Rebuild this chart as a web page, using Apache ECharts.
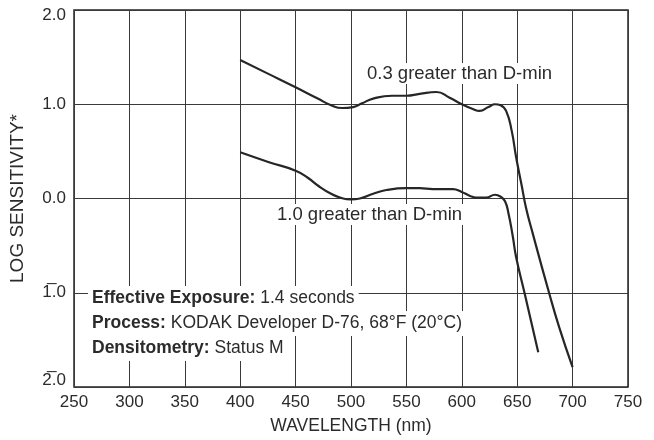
<!DOCTYPE html>
<html>
<head>
<meta charset="utf-8">
<script src="https://cdn.jsdelivr.net/npm/echarts@6/dist/echarts.min.js"></script>
<style>
  html, body { margin: 0; padding: 0; background: #fff; }
  #chart { width: 654px; height: 440px; }
</style>
</head>
<body>
<div id="chart"></div>
<script>
// Spectral sensitivity, wavelength (nm) vs log sensitivity
const wavelengthTicks = [250, 300, 350, 400, 450, 500, 550, 600, 650, 700, 750];
const sensitivityTicks = [-2, -1, 0, 1, 2];
const sensitivityTickLabels = ['2\u0305.0', '1\u0305.0', '0.0', '1.0', '2.0'];

// 0.3 greater than D-min
const curve03 = [
  [400, 1.47], [425, 1.325], [450, 1.18], [470, 1.06], [482, 0.99], [492, 0.96],
  [502, 0.97], [510, 1.01], [520, 1.06], [537, 1.09], [550, 1.09], [562, 1.11],
  [577, 1.13], [589, 1.07], [600, 1.00], [610, 0.95], [616, 0.93], [624, 0.97],
  [630, 1.00], [635, 0.99], [640, 0.93], [645, 0.72], [649, 0.44], [654, 0.14],
  [658, -0.10], [664, -0.37], [679, -1.01], [688, -1.37], [700, -1.79]
];

// 1.0 greater than D-min
const curve10 = [
  [400, 0.49], [426, 0.385], [450, 0.295], [461, 0.22], [471, 0.13], [482, 0.05],
  [490, 0.01], [500, -0.01], [508, 0.00], [520, 0.05], [532, 0.09], [550, 0.11],
  [562, 0.11], [574, 0.10], [592, 0.10], [600, 0.07], [607, 0.03], [613, 0.01],
  [622, 0.01], [630, 0.04], [635, 0.02], [639, -0.03], [642, -0.15], [646, -0.40],
  [649, -0.62], [657, -1.02], [669, -1.63]
];

const FONT = '"Liberation Sans", Arial, Helvetica, sans-serif';
const TEXT = '#2b2b2b';
const INK = '#262626';

const chart = echarts.init(document.getElementById('chart'), null, { renderer: 'canvas' });

const labelMap = {};
sensitivityTicks.forEach((v, i) => { labelMap[v] = sensitivityTickLabels[i]; });
const yMin = sensitivityTicks[0];
const yMax = sensitivityTicks[sensitivityTicks.length - 1];

const richBold = { fontWeight: 'bold', fontFamily: FONT, fontSize: 17.5, fill: TEXT, lineHeight: 21 };

chart.setOption({
  animation: false,
  backgroundColor: '#fff',
  grid: {
    left: 74, right: 26, top: 10, bottom: 53,
    outerBoundsMode: 'none',
    containLabel: false,
    show: true, borderColor: INK, borderWidth: 1.5, backgroundColor: 'transparent'
  },
  xAxis: {
    type: 'value',
    min: wavelengthTicks[0],
    max: wavelengthTicks[wavelengthTicks.length - 1],
    interval: 50,
    name: 'WAVELENGTH (nm)',
    nameLocation: 'middle',
    nameGap: 30,
    nameTextStyle: { fontFamily: FONT, fontSize: 17.5, color: TEXT },
    axisLine: { show: false },
    axisTick: { show: false },
    axisLabel: { fontFamily: FONT, fontSize: 17, color: TEXT, margin: 7 },
    splitLine: { show: true, lineStyle: { color: '#3a3a3a', width: 1 } }
  },
  yAxis: {
    type: 'value',
    min: yMin, max: yMax, interval: 1,
    name: 'LOG SENSITIVITY*',
    nameLocation: 'middle',
    nameGap: 47,
    nameTextStyle: { fontFamily: FONT, fontSize: 19, color: TEXT },
    axisLine: { show: false },
    axisTick: { show: false },
    axisLabel: {
      fontFamily: FONT, fontSize: 17, color: TEXT, margin: 8,
      formatter: v => {
        const t = labelMap[v] !== undefined ? labelMap[v] : '';
        if (v === yMax) return '{hi|' + t + '}';
        if (v === yMin) return '{lo|' + t + '}';
        return t;
      },
      rich: {
        hi: { fontFamily: FONT, fontSize: 17, color: TEXT, padding: [10, 0, 0, 0] },
        lo: { fontFamily: FONT, fontSize: 17, color: TEXT, padding: [0, 0, 14, 0] }
      }
    },
    splitLine: { show: true, lineStyle: { color: '#3a3a3a', width: 1 } }
  },
  graphic: [
    {
      type: 'text', left: 365, top: 63, z: 1,
      style: {
        text: '0.3 greater than D-min', font: '18.5px ' + FONT, fill: TEXT,
        backgroundColor: '#fff', padding: [1, 2]
      }
    },
    {
      type: 'text', left: 275, top: 204, z: 1,
      style: {
        text: '1.0 greater than D-min', font: '18.5px ' + FONT, fill: TEXT,
        backgroundColor: '#fff', padding: [1, 2]
      }
    },
    {
      type: 'text', left: 88, top: 286, z: 1,
      style: {
        text: '{b|Effective Exposure:} 1.4 seconds',
        font: '17.5px ' + FONT, fill: TEXT, backgroundColor: '#fff', padding: [2, 4, 2, 4],
        lineHeight: 21, rich: { b: richBold }
      }
    },
    {
      type: 'text', left: 88, top: 311, z: 1,
      style: {
        text: '{b|Process:} KODAK Developer D-76, 68\u00B0F (20\u00B0C)',
        font: '17.5px ' + FONT, fill: TEXT, backgroundColor: '#fff', padding: [2, 4, 2, 4],
        lineHeight: 21, rich: { b: richBold }
      }
    },
    {
      type: 'text', left: 88, top: 336, z: 1,
      style: {
        text: '{b|Densitometry:} Status M',
        font: '17.5px ' + FONT, fill: TEXT, backgroundColor: '#fff', padding: [2, 4, 2, 4],
        lineHeight: 21, rich: { b: richBold }
      }
    }
  ],
  series: [
    {
      name: '0.3 greater than D-min',
      type: 'line', data: curve03, smooth: 0.5, showSymbol: false, z: 3,
      lineStyle: { color: INK, width: 2.2 }
    },
    {
      name: '1.0 greater than D-min',
      type: 'line', data: curve10, smooth: 0.5, showSymbol: false, z: 3,
      lineStyle: { color: INK, width: 2.2 }
    }
  ]
});
</script>
</body>
</html>
